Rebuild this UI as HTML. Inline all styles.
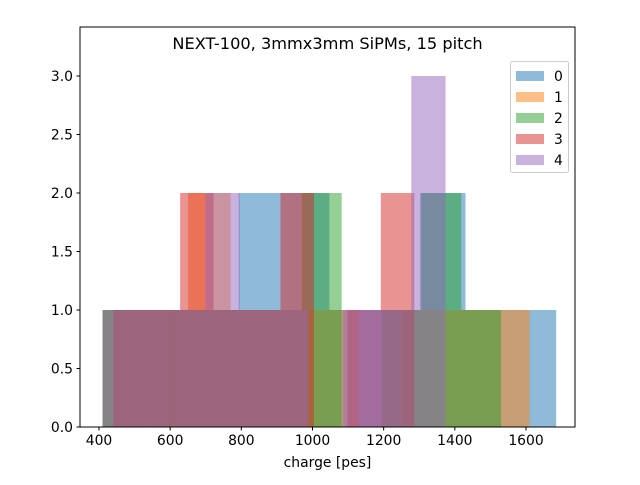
<!DOCTYPE html>
<html><head><meta charset="utf-8"><style>
body{margin:0;background:#fff;}
svg{font-family:"DejaVu Sans","Liberation Sans",sans-serif;}
</style></head><body>
<svg id="c" width="640" height="480"></svg>
<script>
const seriesNames=["0","1","2","3","4"];
const seriesColors=["#1f77b4","#ff7f0e","#2ca02c","#d62728","#9467bd"];
const seriesMin=[410,410,410,440,410];
const seriesMax=[1685,1610,1530,1380,1374];
const counts0=[1,1,1,2,2,1,1,2,1,1];
const counts1=[1,1,2,1,1,1,0,1,1,1];
const counts2=[1,1,1,1,1,2,0,1,2,1];
const counts3=[1,1,2,1,1,2,0,1,2,0];
const counts4=[1,1,1,2,1,1,0,1,1,3];
const seriesCounts=[counts0,counts1,counts2,counts3,counts4];
const xTicks=[400,600,800,1000,1200,1400,1600];
const yTicks=[0,0.5,1,1.5,2,2.5,3];

const NS="http://www.w3.org/2000/svg";
const svg=document.getElementById('c');
const L=80,R=575,T=27,B=427;
const xs=v=>99+(v-400)*(427/1200);
const ys=v=>B-v*117;
function mk(t,a,txt){const e=document.createElementNS(NS,t);for(const k in a)e.setAttribute(k,a[k]);if(txt!==undefined)e.textContent=txt;svg.appendChild(e);return e;}

seriesCounts.forEach((cs,s)=>{
  const w=(seriesMax[s]-seriesMin[s])/cs.length;
  cs.forEach((c,i)=>{
    if(!c)return;
    const x0=xs(seriesMin[s]+i*w),x1=xs(seriesMin[s]+(i+1)*w);
    const r=mk('rect',{x:x0,y:ys(c),width:x1-x0,height:ys(0)-ys(c),fill:seriesColors[s],'fill-opacity':0.5});
    
    
  });
});
const fr=mk('rect',{x:L,y:T,width:R-L,height:B-T,fill:'none',stroke:'#000','stroke-width':1});

xTicks.forEach(v=>{
  const x=xs(v);
  const l=mk('line',{x1:x,x2:x,y1:B,y2:B+3.5,stroke:'#000'});
  
  const t=mk('text',{x:x,y:B+18,'text-anchor':'middle','font-size':13.9},String(v));
  
});
yTicks.forEach(v=>{
  const y=ys(v);
  const l=mk('line',{x1:L-3.5,x2:L,y1:y,y2:y,stroke:'#000'});
  
  const t=mk('text',{x:L-7,y:y+5,'text-anchor':'end','font-size':13.9},v.toFixed(1));
  
});
const ti=mk('text',{x:327.5,y:49,'text-anchor':'middle','font-size':16.2},'NEXT-100, 3mmx3mm SiPMs, 15 pitch');

const xl=mk('text',{x:327.5,y:467,'text-anchor':'middle','font-size':13.9},'charge [pes]');

const lg=mk('rect',{x:510.5,y:61.5,width:58,height:111,rx:2,fill:'#fff','fill-opacity':0.8,stroke:'#ccc'});

seriesNames.forEach((n,i)=>{
  const y=71+i*21;
  const r=mk('rect',{x:516,y:y,width:28,height:10,fill:seriesColors[i],'fill-opacity':0.5});
  
  const t=mk('text',{x:554,y:y+10,'font-size':13.9},n);
  
});
</script>
</body></html>
